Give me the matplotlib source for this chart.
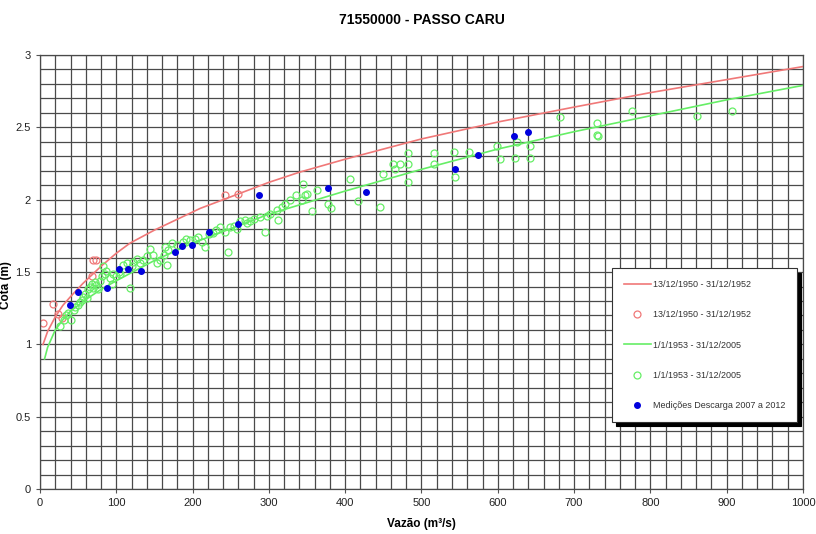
import numpy as np
import matplotlib
matplotlib.use('Agg')
import matplotlib.pyplot as plt
from matplotlib.ticker import MultipleLocator

plt.rcParams['font.family'] = ['Liberation Sans', 'DejaVu Sans']

#Rating curve 13/12/1950 - 31/12/1952
red_q = [4, 10, 20, 30, 40, 56, 80, 100, 118, 150, 210, 250, 300, 340, 400, 500, 603, 700, 800, 900, 1000]
red_h = [1.00, 1.09, 1.19, 1.27, 1.33, 1.42, 1.54, 1.63, 1.70, 1.79, 1.94, 2.02, 2.12, 2.19, 2.28, 2.42, 2.54, 2.64, 2.74, 2.83, 2.92]

#Rating curve 1/1/1953 - 31/12/2005
green_q = [6, 10, 20, 30, 40, 60, 80, 100, 150, 200, 250, 300, 400, 500, 600, 700, 800, 900, 1000]
green_h = [0.90, 0.98, 1.10, 1.17, 1.23, 1.31, 1.38, 1.44, 1.58, 1.70, 1.80, 1.90, 2.06, 2.21, 2.35, 2.47, 2.58, 2.69, 2.79]

#Measurements 1950-1952
red_pts_q = [4, 17, 23, 29, 68, 69, 73, 242, 260]
red_pts_h = [1.15, 1.28, 1.21, 1.18, 1.47, 1.58, 1.58, 2.03, 2.04]

#Measurements 1953-2005
green_pts_q = [26, 31, 34, 37, 41, 44, 46, 50, 52, 55, 57, 59, 61, 63, 65, 68, 70, 72, 74, 76,
               79, 81, 83, 85, 87, 92, 94, 96, 100, 103, 105, 109, 114, 118, 120, 122, 127, 131, 135, 140,
               144, 148, 153, 157, 162, 164, 166, 168, 173, 179, 188, 192, 197, 203, 207, 212, 216, 221, 227, 231,
               236, 242, 247, 249, 254, 258, 262, 269, 271, 275, 280, 288, 295, 297, 301, 310, 312, 317, 321, 328,
               336, 343, 345, 347, 350, 356, 363, 378, 382, 406, 417, 446, 450, 463, 465, 472, 483, 483, 483, 516,
               516, 542, 544, 562, 599, 603, 623, 625, 642, 642, 682, 730, 730, 732, 776, 861, 907]
green_pts_h = [1.13, 1.17, 1.20, 1.22, 1.17, 1.24, 1.26, 1.27, 1.29, 1.31, 1.33, 1.35, 1.32, 1.38, 1.40, 1.42, 1.39, 1.43, 1.41, 1.38,
               1.44, 1.47, 1.54, 1.49, 1.51, 1.46, 1.42, 1.49, 1.47, 1.50, 1.49, 1.55, 1.56, 1.39, 1.54, 1.57, 1.59, 1.56, 1.58, 1.61,
               1.66, 1.62, 1.56, 1.58, 1.62, 1.67, 1.55, 1.65, 1.70, 1.69, 1.71, 1.73, 1.72, 1.73, 1.74, 1.71, 1.67, 1.76, 1.77, 1.79,
               1.81, 1.78, 1.64, 1.81, 1.82, 1.80, 1.85, 1.86, 1.84, 1.85, 1.87, 1.88, 1.78, 1.89, 1.90, 1.93, 1.86, 1.95, 1.97, 2.00,
               2.03, 2.00, 2.11, 2.03, 2.04, 1.92, 2.07, 1.97, 1.94, 2.14, 1.99, 1.95, 2.18, 2.25, 2.21, 2.25, 2.32, 2.25, 2.12, 2.32,
               2.25, 2.33, 2.16, 2.33, 2.37, 2.28, 2.29, 2.40, 2.37, 2.29, 2.57, 2.53, 2.45, 2.44, 2.61, 2.58, 2.61]

#Medições Descarga 2007 a 2012
blue_q = [39, 50, 88, 104, 116, 133, 177, 186, 199, 222, 259, 287, 377, 427, 544, 574, 621, 640]
blue_h = [1.27, 1.36, 1.39, 1.52, 1.52, 1.51, 1.64, 1.68, 1.69, 1.78, 1.83, 2.03, 2.08, 2.05, 2.21, 2.31, 2.44, 2.47]

red_c = '#f07878'
green_c = '#66ee66'

fig = plt.figure(figsize=(8.16, 5.34), dpi=100)
ax = fig.add_axes([0.049, 0.084, 0.935, 0.813])

ax.plot(red_q, red_h, color=red_c, lw=1.2, label='13/12/1950 - 31/12/1952')
ax.plot(red_pts_q, red_pts_h, 'o', mfc='none', mec=red_c, ms=5, mew=0.9, label='13/12/1950 - 31/12/1952')
ax.plot(green_q, green_h, color=green_c, lw=1.2, label='1/1/1953 - 31/12/2005')
ax.plot(green_pts_q, green_pts_h, 'o', mfc='none', mec=green_c, ms=5, mew=0.9, label='1/1/1953 - 31/12/2005')
ax.plot(blue_q, blue_h, 'o', color='#0000dd', ms=4, label='Medições Descarga 2007 a 2012')

ax.set_xlim(0, 1000)
ax.set_ylim(0, 3)
ax.xaxis.set_major_locator(MultipleLocator(100))
ax.xaxis.set_minor_locator(MultipleLocator(20))
ax.yaxis.set_major_locator(MultipleLocator(0.5))
ax.yaxis.set_minor_locator(MultipleLocator(0.1))
ax.set_yticks([0, 0.5, 1, 1.5, 2, 2.5, 3])
ax.set_yticklabels(['0', '0.5', '1', '1.5', '2', '2.5', '3'])
ax.grid(which='both', color='#4a4a4a', lw=0.9)
ax.set_axisbelow(True)
ax.tick_params(which='minor', length=0)
ax.tick_params(which='major', length=3, color='#555555', labelsize=8, labelcolor='#222222')
for s in ax.spines.values():
    s.set_color('#4a4a4a')
    s.set_linewidth(0.9)

ax.set_title('71550000 - PASSO CARU', fontsize=10, fontweight='bold', pad=22)
ax.set_xlabel('Vazão (m³/s)', fontsize=8.5, fontweight='bold', labelpad=7)
ax.set_ylabel('Cota (m)', fontsize=8.5, fontweight='bold')
ax.yaxis.set_label_coords(-0.037, 0.47)

leg = ax.legend(loc='lower right', bbox_to_anchor=(0.998, 0.145), fontsize=6.5, labelspacing=2.35,
                borderpad=1.3, handlelength=3, handletextpad=0.2, fancybox=False,
                framealpha=1, edgecolor='#333333', shadow={'color': 'black', 'alpha': 1, 'ox': 3, 'oy': -3})
leg.get_frame().set_linewidth(0.8)
for t in leg.get_texts():
    t.set_color('#333333')

fig.savefig('out.png', dpi=100)
